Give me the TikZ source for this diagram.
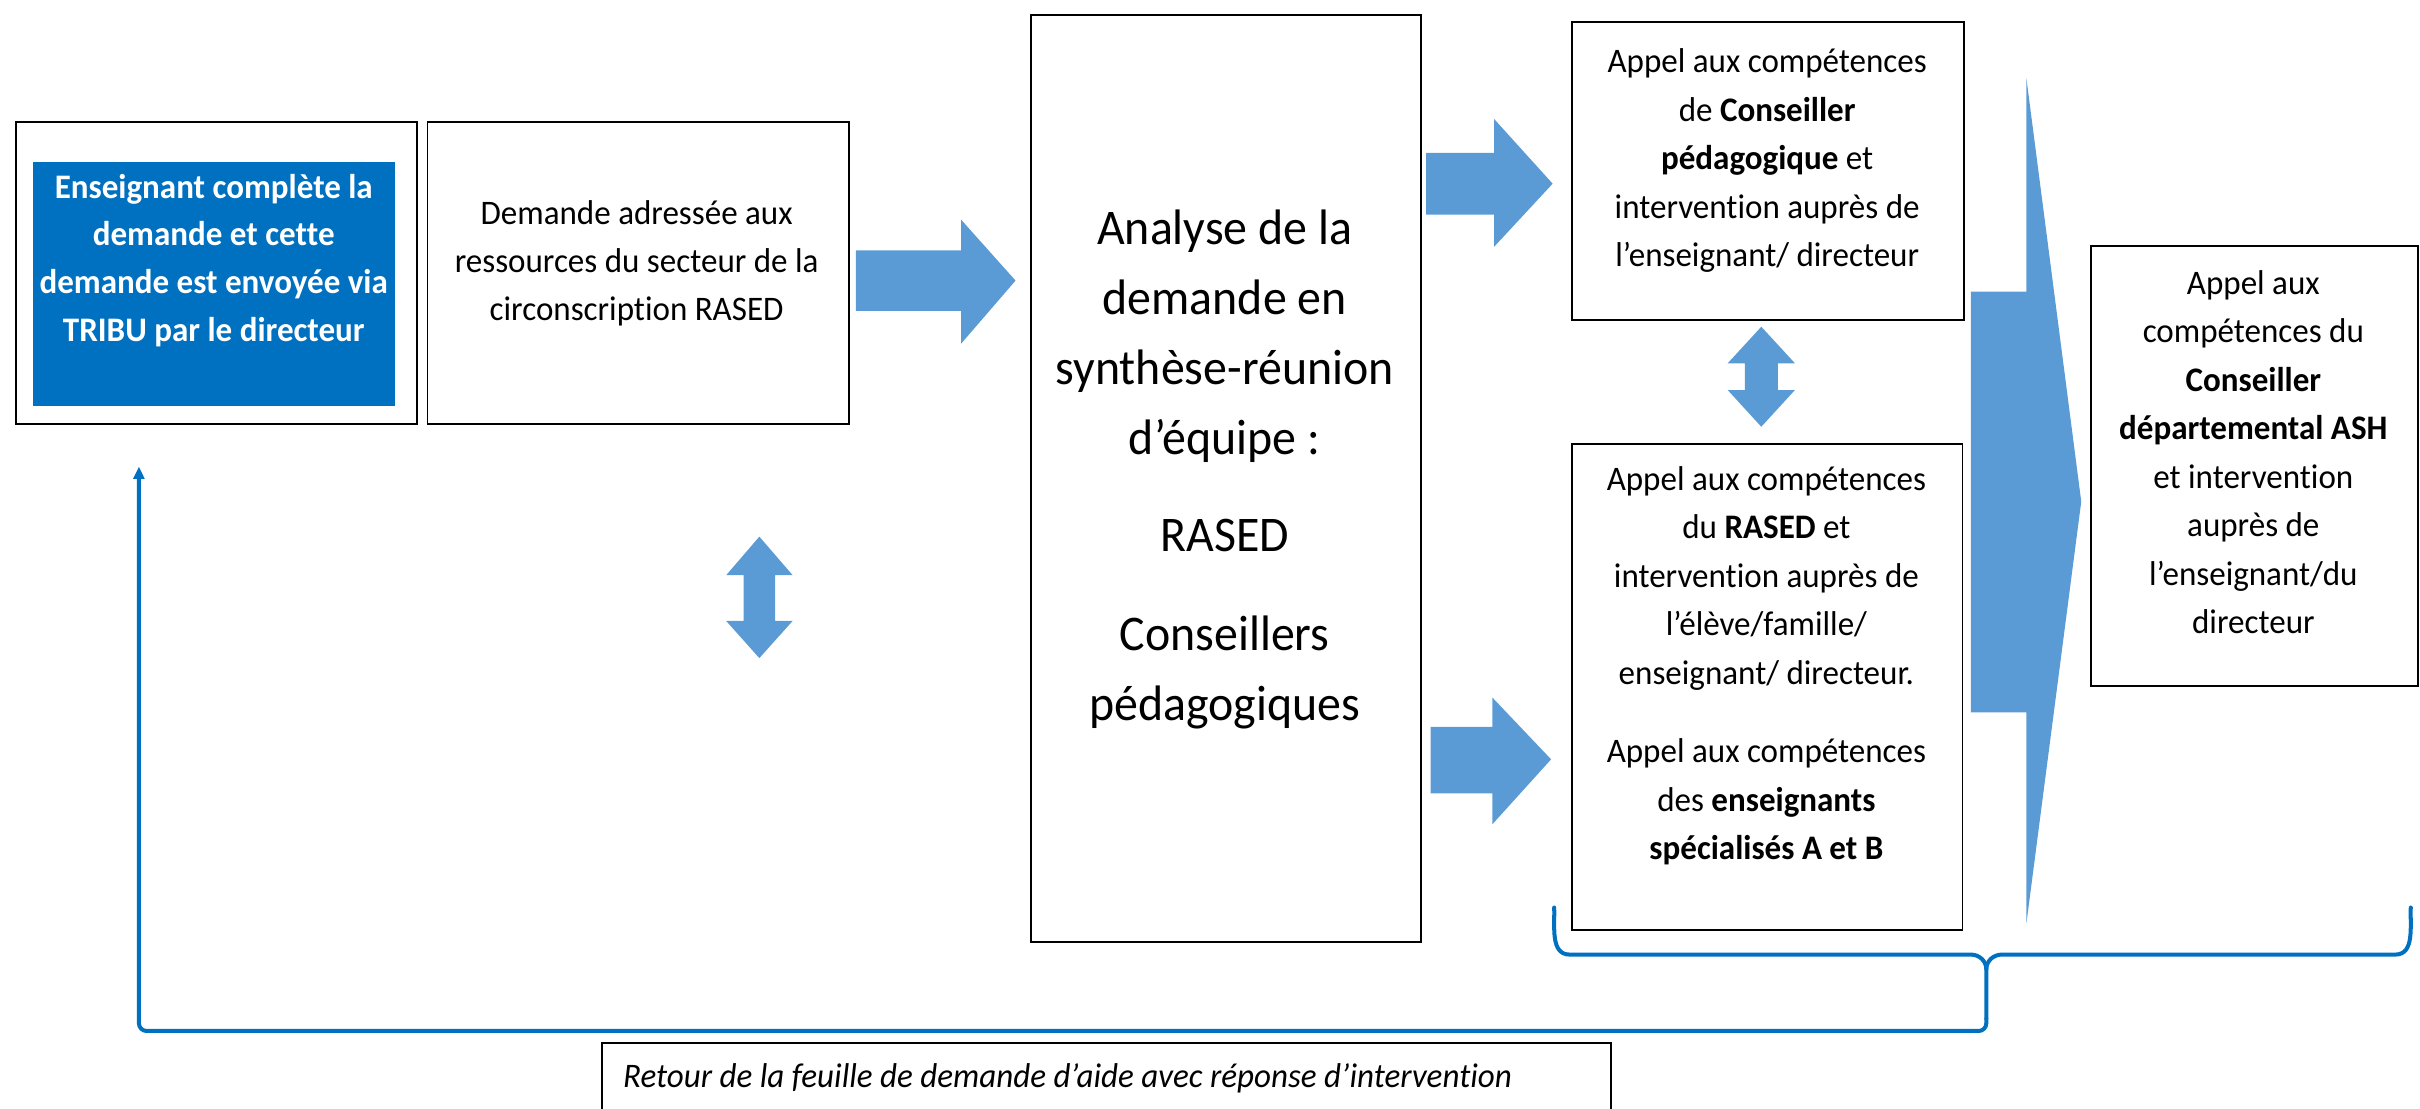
\documentclass[tikz,border=0pt]{standalone}
\usepackage{fontspec}
\setmainfont{Carlito}[FakeStretch=0.96, Ligatures={NoCommon,NoRequired,NoContextual}, Contextuals=NoAlternate, RawFeature={-liga;-clig;-calt}]
\usetikzlibrary{arrows.meta}
\definecolor{arrowblue}{HTML}{5B9BD5}
\definecolor{boxblue}{HTML}{0070C0}
\newcommand{\mybrk}{\kern0pt }
\tikzset{
  box/.style={draw=black, line width=1.2pt, inner sep=0pt, anchor=north west},
  bluefill/.style={fill=boxblue, draw=none, inner sep=0pt, anchor=north west},
  blockarrow/.style={fill=arrowblue, draw=none},
  txt/.style={align=center, inner sep=0pt, anchor=north, font=\fontsize{22.3}{31.4}\selectfont},
  bigtxt/.style={align=center, inner sep=0pt, anchor=north, font=\fontsize{32.3}{45.5}\selectfont},
  bluepath/.style={draw=boxblue, line width=2.6pt, line cap=round, line join=round}
}
\begin{document}
\begin{tikzpicture}[x=1pt,y=-1pt]
\useasboundingbox (0,0) rectangle (1568,718);
% boxes
\node[box, minimum width=259.5, minimum height=195.4] (boxA) at (10,78.6) {};
\node[bluefill, minimum width=234.1, minimum height=158.2] (blueA) at (21.4,104.5) {};
\node[box, minimum width=273.1, minimum height=195.4] (boxB) at (276.4,78.6) {};
\node[box, minimum width=252.7, minimum height=600.9] (boxC) at (667.3,9.1) {};
\node[box, minimum width=254, minimum height=193.3] (boxD) at (1018,13.7) {};
\node[box, minimum width=253, minimum height=315] (boxE) at (1018,287) {};
\node[box, minimum width=212, minimum height=285] (boxF) at (1354,159) {};
\node[box, minimum width=653.5, minimum height=70] (boxG) at (389.5,675) {};
% texts
\node[txt, text=white, font=\fontsize{22.3}{30.9}\selectfont\bfseries] (tA) at (138.5,106.5)
  {\strut Enseignant complète la\\demande et cet\mybrk te\\demande est envoyée via\\TRIBU par le directeur};
\node[txt, font=\fontsize{22.3}{31.1}\selectfont] (tB) at (412.5,123.8)
  {\strut Demande adressée aux\\ressources du secteur de la\\circonscript\mybrk ion RASED};
\node[bigtxt] (tC) at (793.5,126.2)
  {\strut Analyse de la\\demande en\\synthèse-réunion\\d’équipe :\\[17.3pt]RASED\\[18.5pt]Conseillers\\pédagogiques};
\node[txt] (tD) at (1145,25)
  {\strut Appel aux compétences\\de \textbf{Conseiller}\\\textbf{pédagogique} et\\intervent\mybrk ion auprès de\\l’enseignant/ directeur};
\node[txt] (tE) at (1144.5,295.5)
  {\strut Appel aux compétences\\du \textbf{RASED} et\\intervent\mybrk ion auprès de\\l’élève/famille/\\enseignant/ directeur.\\[19.6pt]Appel aux compétences\\des \textbf{enseignants}\\\textbf{spécialisés A et B}};
\node[txt] (tF) at (1460,168.5)
  {\strut Appel aux\\compétences du\\\textbf{Conseiller}\\\textbf{départemental ASH}\\et intervent\mybrk ion\\auprès de\\l’enseignant/du\\directeur};
\node[inner sep=0pt, anchor=base west, font=\fontsize{22.3}{31.4}\selectfont\itshape] (tG) at (403.6,704.5)
  {Retour de la feuille de demande d’aide avec réponse d’intervent\mybrk ion};
% block arrows
\fill[blockarrow] (554.5,162.3) -- (622.7,162.3) -- (622.7,142.3) -- (658,181.8) -- (622.7,222.7) -- (622.7,201.4) -- (554.5,201.4) -- cycle;
\fill[blockarrow] (924,99) -- (968,99) -- (968,77) -- (1006,119) -- (968,160) -- (968,139) -- (924,139) -- cycle;
\fill[blockarrow] (927,471) -- (967,471) -- (967,452) -- (1005,492) -- (967,534) -- (967,514) -- (927,514) -- cycle;
\fill[blockarrow] (1277,189) -- (1313,189) -- (1313,51) -- (1348.5,325) -- (1313,598) -- (1313,461.5) -- (1277,461.5) -- cycle;
% double arrows
\fill[blockarrow] (492,347.7) -- (513.6,372.7) -- (502.3,372.7) -- (502.3,402.3) -- (513.6,402.3) -- (492,426.4) -- (470.5,402.3) -- (481.8,402.3) -- (481.8,372.7) -- (470.5,372.7) -- cycle;
\fill[blockarrow] (1141.2,211.7) -- (1163,235.4) -- (1152,235.4) -- (1152,252.7) -- (1163,252.7) -- (1141.2,276.5) -- (1119.4,252.7) -- (1130.6,252.7) -- (1130.6,235.4) -- (1119.4,235.4) -- cycle;
% brace
\coordinate (braceL) at (1007,588);
\coordinate (braceR) at (1562,588);
\coordinate (braceTip) at (1287,628);
\coordinate (braceEnd) at (1287,660);
\coordinate (retTip) at (90,302.3);
\draw[bluepath] (braceL) to[out=-88,in=180] (1017,618.5) -- (1277,618.5) to[out=0,in=90] (braceTip) -- (braceEnd);
\draw[bluepath] (braceR) to[out=-92,in=0] (1552,618.5) -- (1297,618.5) to[out=180,in=90] (braceTip);
% return arrow
\draw[bluepath, rounded corners=5pt, -{Triangle[length=8pt,width=7pt]}] (braceEnd) |- (90,668) -- (retTip);
\end{tikzpicture}
\end{document}
